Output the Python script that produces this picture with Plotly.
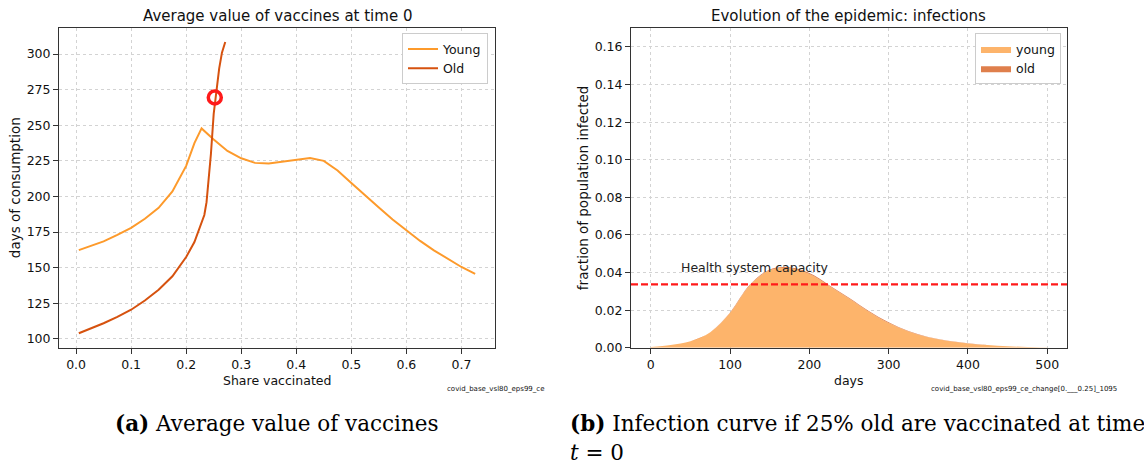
import plotly.graph_objects as go

# ---------------- data: left panel ----------------
share_young = [0.005, 0.025, 0.05, 0.075, 0.1, 0.125, 0.15, 0.175, 0.2, 0.215, 0.228,
               0.25, 0.275, 0.3, 0.325, 0.35, 0.375, 0.4, 0.425, 0.45, 0.475, 0.5,
               0.525, 0.55, 0.575, 0.6, 0.625, 0.65, 0.675, 0.7, 0.725]
value_young = [162.3, 165.0, 168.5, 173.0, 178.0, 184.4, 192.0, 203.5, 221.5, 237.5, 247.8,
               240.0, 232.0, 226.8, 223.6, 223.1, 224.3, 225.9, 227.0, 225.0, 218.3, 209.5,
               200.5, 192.2, 183.8, 176.0, 168.8, 162.2, 156.2, 150.5, 145.6]

share_old = [0.005, 0.025, 0.05, 0.075, 0.1, 0.125, 0.15, 0.175, 0.2, 0.215, 0.225,
             0.233, 0.237, 0.24, 0.245, 0.25, 0.255, 0.26, 0.265, 0.271]
value_old = [104.0, 107.0, 111.0, 115.5, 120.5, 127.0, 134.5, 144.0, 157.5, 168.0, 178.0,
             187.0, 196.0, 207.0, 230.0, 258.0, 275.0, 290.0, 301.0, 308.5]

circle_share = [0.252]
circle_value = [269.5]

# ---------------- data: right panel ----------------
days = [0, 25, 50, 75, 100, 125, 150, 175, 200, 225, 250, 275, 300, 325, 350, 375, 400,
        425, 450, 475, 500]
infected_young = [0.0004, 0.0014, 0.0034, 0.0082, 0.0186, 0.0333, 0.0412, 0.0423, 0.0392,
                  0.0328, 0.0262, 0.0192, 0.0132, 0.0087, 0.0056, 0.0036, 0.0023, 0.0014,
                  0.0008, 0.0004, 0.0001]
infected_old = [0.0, 0.0, 0.0, 0.0001, 0.0002, 0.0003, 0.0004, 0.0005, 0.0005, 0.0005,
                0.0004, 0.0003, 0.0003, 0.0002, 0.0001, 0.0001, 0.0001, 0.0, 0.0, 0.0, 0.0]
capacity = 0.0337
capacity_label_day = 35
capacity_label_y = 0.0377

left_ticks = [0.0, 0.1, 0.2, 0.3, 0.4, 0.5, 0.6, 0.7]
left_yticks = [100, 125, 150, 175, 200, 225, 250, 275, 300]
right_ticks = [0, 100, 200, 300, 400, 500]
right_yticks = [0.00, 0.02, 0.04, 0.06, 0.08, 0.10, 0.12, 0.14, 0.16]

W, H = 1144, 470
FONT = "DejaVu Sans"

fig = go.Figure()
fig.add_trace(go.Scatter(x=share_young, y=value_young, mode="lines", name="Young",
                         line=dict(color="#fd9a2b", width=2), xaxis="x", yaxis="y",
                         legend="legend"))
fig.add_trace(go.Scatter(x=share_old, y=value_old, mode="lines", name="Old",
                         line=dict(color="#d6520f", width=2), xaxis="x", yaxis="y",
                         legend="legend"))
fig.add_trace(go.Scatter(x=circle_share, y=circle_value, mode="markers", showlegend=False,
                         marker=dict(symbol="circle-open", size=13, color="#ff1a1a",
                                     line=dict(width=3.5, color="#ff1a1a")),
                         xaxis="x", yaxis="y"))

fig.add_trace(go.Scatter(x=days, y=infected_young, mode="lines", name="young",
                         stackgroup="inf", fillcolor="#fdb46b",
                         line=dict(width=0, color="#fdb46b", shape="spline"),
                         xaxis="x2", yaxis="y2", legend="legend2"))
fig.add_trace(go.Scatter(x=days, y=infected_old, mode="lines", name="old",
                         stackgroup="inf", fillcolor="#df7f4c",
                         line=dict(width=0, color="#df7f4c", shape="spline"),
                         xaxis="x2", yaxis="y2", legend="legend2"))


def px_x(p):
    return p / W


def px_y(p):
    return 1 - p / H


axis_common = dict(showline=True, linecolor="#333", linewidth=1, mirror=True,
                   ticks="outside", ticklen=5, tickcolor="#333", tickwidth=1,
                   showgrid=True, gridcolor="#d3d3d3", griddash="dot", gridwidth=1,
                   zeroline=False, tickfont=dict(family=FONT, size=12.5, color="#111"))

ydom = [px_y(353), px_y(28)]
legend_common = dict(y=px_y(34), yanchor="top", bgcolor="white", bordercolor="#cccccc",
                     borderwidth=1, font=dict(family=FONT, size=12.5, color="#111"),
                     itemwidth=30, tracegroupgap=0, traceorder="normal")
fig.update_layout(
    width=W, height=H, margin=dict(l=0, r=0, t=0, b=0),
    paper_bgcolor="white", plot_bgcolor="white",
    font=dict(family=FONT, size=12, color="#111"),
    xaxis=dict(domain=[px_x(59), px_x(495)], anchor="y", range=[-0.031, 0.761],
               tickvals=left_ticks, tickformat=".1f", **axis_common),
    yaxis=dict(domain=ydom, anchor="x", range=[93.8, 318.6],
               tickvals=left_yticks, **axis_common),
    xaxis2=dict(domain=[px_x(631), px_x(1067)], anchor="y2", range=[-25, 525],
                tickvals=right_ticks, **axis_common),
    yaxis2=dict(domain=ydom, anchor="x2", range=[0, 0.1703],
                tickvals=right_yticks, tickformat=".2f", **axis_common),
    legend=dict(x=px_x(488), xanchor="right", **legend_common),
    legend2=dict(x=px_x(1061), xanchor="right", **legend_common),
    showlegend=True,
)

fig.add_shape(type="line", xref="x2 domain", x0=0, x1=1, yref="y2", y0=capacity, y1=capacity,
              line=dict(color="#ff1a1a", width=2.2, dash="7px,3px"))

ann = []


def text(x, y, s, size, xanchor="center", yanchor="middle", angle=0, family=FONT,
         xref="paper", yref="paper", color="#111"):
    ann.append(dict(x=x, y=y, xref=xref, yref=yref, text=s, showarrow=False,
                    xanchor=xanchor, yanchor=yanchor, textangle=angle,
                    font=dict(family=family, size=size, color=color)))


text(px_x(277), px_y(16), "Average value of vaccines at time 0", 15)
text(px_x(849), px_y(16), "Evolution of the epidemic: infections", 15)
text(px_x(15), px_y(191), "days of consumption", 13.5, angle=-90)
text(px_x(583), px_y(191), "fraction of population infected", 13.5, angle=-90)
text(px_x(277), px_y(386), "Share vaccinated", 12.5)
text(px_x(849), px_y(386), "days", 12.5)
text(px_x(546), px_y(395), "covid_base_vsl80_eps99_ce", 7, xanchor="right")
text(px_x(1119), px_y(395), "covid_base_vsl80_eps99_ce_change[0.___0.25]_1095", 7,
     xanchor="right")
text(capacity_label_day, capacity_label_y, "Health system capacity", 12.5, xanchor="left",
     yanchor="bottom", xref="x2", yref="y2", color="#222")

SERIF = "DejaVu Serif"
text(px_x(277), px_y(430), "<b>(a)</b> Average value of vaccines", 21.5, family=SERIF,
     color="#000")
text(px_x(568), px_y(430), "<b>(b)</b> Infection curve if 25% old are vaccinated at time",
     21.5, xanchor="left", family=SERIF, color="#000")
text(px_x(568), px_y(459), "<i>t</i> = 0", 21.5, xanchor="left", family=SERIF, color="#000")

fig.update_layout(annotations=ann)
fig.write_html("out.html", config={"displayModeBar": False},
               post_script="document.body.style.margin='0';document.body.style.overflow='hidden';")
